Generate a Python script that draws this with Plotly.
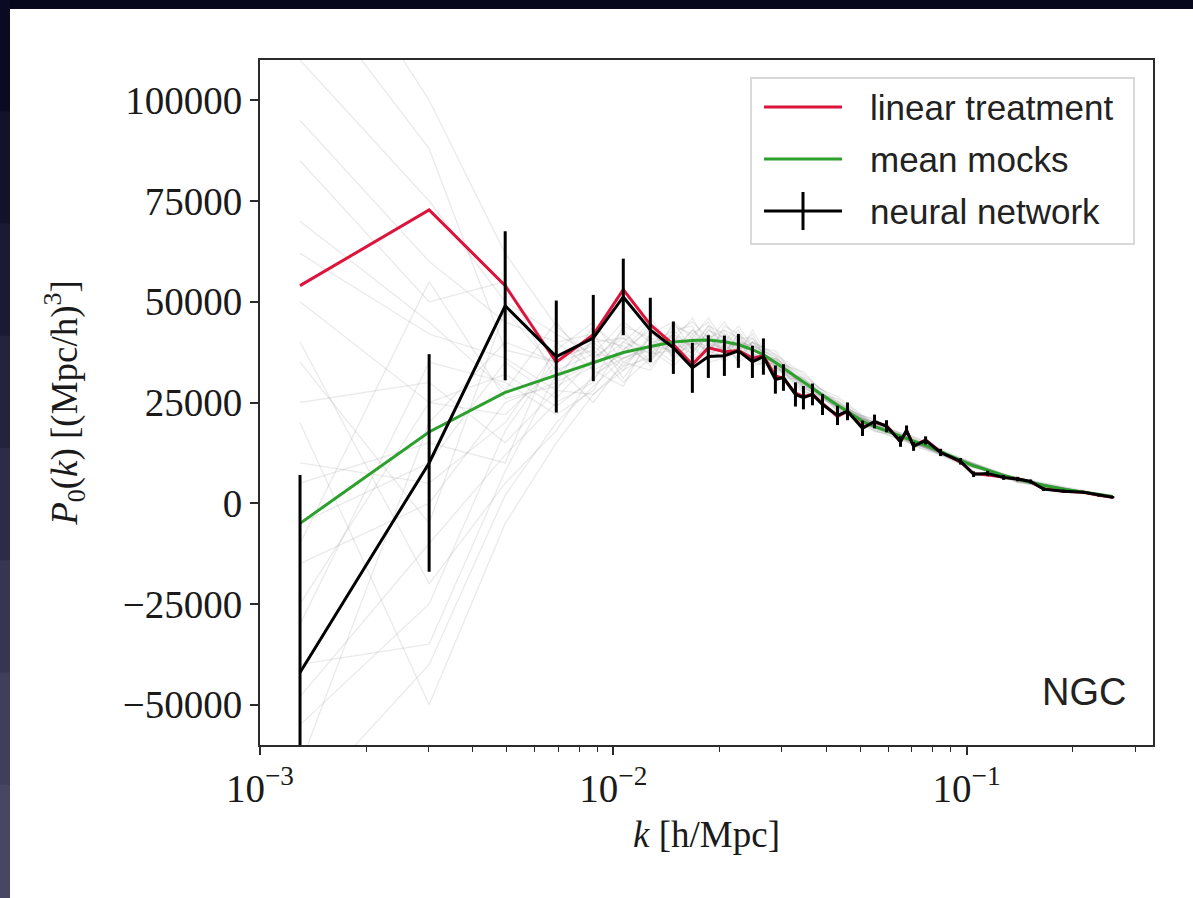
import plotly.graph_objects as go

# ---------------- data ----------------
k = [0.001298, 0.003011, 0.004943, 0.006896, 0.008777, 0.010673, 0.012728, 0.014791, 0.016742, 0.018578,
     0.020627, 0.022600, 0.024760, 0.026600, 0.028760, 0.030310, 0.032780, 0.034530, 0.036620, 0.039100,
     0.043110, 0.046010, 0.050740, 0.054880, 0.059340, 0.065010, 0.067610, 0.070790, 0.076550, 0.084390,
     0.096160, 0.104660, 0.114700, 0.127280, 0.139470, 0.151810, 0.165220, 0.188320, 0.214490, 0.236570,
     0.259300]

linear_P = [54000, 72800, 54000, 35000, 41800, 53000, 44300, 39400, 34400, 38600,
            37600, 37900, 36000, 36600, 31600, 31000, 27300, 26500, 27000, 24800,
            21500, 22900, 18900, 20100, 19300, 15300, 18000, 14300, 15700, 12800,
            10200, 7400, 7000, 6600, 6100, 5300, 3600, 3000, 2700, 2000,
            1500]

mean_P = [-5000, 17700, 27500, 31800, 35000, 37400, 38900, 40000, 40400, 40500,
          40100, 39400, 38100, 36900, 34900, 33500, 31400, 30000, 28400, 26800,
          24300, 22800, 20300, 19000, 18000, 16600, 16000, 15400, 14400, 12800,
          10500, 9300, 8200, 6900, 6000, 5200, 4400, 3500, 2700, 2200,
          1700]

nn_P = [-42000, 10000, 49000, 36400, 41000, 51200, 43000, 38600, 33600, 36400,
        36600, 37800, 35100, 36400, 30700, 31200, 27000, 26200, 27000, 24500,
        21800, 22800, 18600, 20300, 19100, 15300, 18100, 14100, 15600, 12600,
        10400, 7200, 7400, 6400, 6000, 5400, 3500, 3000, 2700, 2000,
        1500]

nn_err = [49000, 27000, 18500, 13900, 10700, 9500, 8000, 6500, 6200, 5300,
          5000, 4200, 4000, 4500, 3500, 3300, 3000, 2900, 2700, 2600,
          2400, 2200, 1900, 1700, 1500, 1300, 1200, 1100, 1000, 900,
          800, 700, 650, 600, 550, 500, 450, 400, 350, 320,
          300]

# individual mock spectra (units of 1000 (Mpc/h)^3)
mock_k = [0.001298, 0.003011, 0.004943, 0.006896, 0.008777, 0.010673, 0.012728, 0.014791, 0.016742,
          0.018578, 0.020627, 0.022600, 0.024760, 0.028760, 0.034530, 0.043110, 0.054880, 0.070790,
          0.096160, 0.139470, 0.259300]
mocks_k1e3 = [
    [62, 42, 36, 28, 41, 39, 35, 42, 45, 41, 38, 41, 41, 35.4, 29.1, 25.3, 19.4, 14.8, 10.8, 5.8, 1.5],
    [-48, -10, 12, 25, 30, 44, 41, 37, 43, 39, 42, 37, 36, 33, 31, 23.5, 19.8, 15.9, 10.2, 5.5, 1.6],
    [95, 60, 45, 40, 33, 29, 42, 45, 38, 44, 37, 40, 39, 36.5, 28.5, 25.0, 18.6, 15.0, 11.1, 6.0, 1.4],
    [10, 5, 20, 38, 45, 35, 33, 41, 36, 37, 44, 42, 35, 33.5, 30.8, 22.9, 20.1, 16.1, 10.0, 5.3, 1.7],
    [-30, 35, 30, 22, 28, 40, 46, 38, 41, 46, 40, 35, 40, 37, 32, 24.8, 18.2, 14.6, 10.9, 6.2, 1.3],
    [40, -20, 5, 18, 32, 36, 38, 34, 39, 42, 39, 43, 37, 34, 27.5, 26.0, 19.5, 15.6, 9.8, 5.6, 1.6],
    [-65, 20, 40, 35, 38, 30, 36, 43, 44, 36, 41, 38, 42, 31.5, 30.5, 23.0, 21.0, 14.2, 10.6, 5.9, 1.5],
    [110, 75, 50, 42, 37, 45, 40, 39, 35, 40, 35, 39, 38, 35.6, 29.9, 24.0, 17.8, 16.4, 11.4, 5.2, 1.4],
    [-15, 0, 25, 30, 44, 38, 43, 36, 40, 38, 43, 41, 34, 36, 31.5, 25.5, 19.0, 15.2, 9.6, 6.3, 1.8],
    [25, 30, 15, 28, 27, 33, 37, 44, 42, 45, 38, 36, 40, 34.2, 28.2, 22.5, 20.4, 14.9, 10.4, 5.4, 1.5],
    [-40, -35, 8, 32, 40, 41, 34, 40, 46, 39, 40, 44, 39, 37.8, 29.0, 24.6, 18.9, 16.0, 11.0, 5.9, 1.2],
    [70, 45, 28, 45, 33, 37, 44, 37, 39, 35, 36, 38, 41, 32.8, 30.2, 26.5, 19.7, 14.4, 10.1, 5.6, 1.6],
    [-5, 10, 35, 26, 36, 42, 37, 42, 37, 43, 41, 35, 37, 35.0, 32.6, 23.6, 18.4, 15.8, 10.7, 5.1, 1.5],
    [50, 25, 22, 34, 25, 35, 39, 38, 43, 40, 45, 40, 36, 34.5, 27.8, 24.2, 20.6, 15.4, 9.9, 6.1, 1.4],
    [-55, -25, 18, 36, 39, 33, 42, 39, 36, 42, 37, 42, 39, 36.2, 30.0, 25.2, 19.3, 16.6, 10.5, 5.7, 1.7],
    [85, 50, 55, 30, 35, 43, 35, 45, 41, 37, 39, 37, 43, 33.2, 31.2, 23.3, 18.0, 14.7, 11.2, 5.4, 1.5],
    [5, 15, 10, 40, 42, 31, 40, 41, 39, 44, 42, 39, 35, 35.8, 29.4, 24.9, 19.9, 15.1, 10.3, 5.8, 1.3],
    [-25, 25, 32, 24, 31, 38, 45, 36, 42, 38, 36, 41, 38, 34.9, 28.7, 23.8, 19.1, 15.5, 10.8, 6.0, 1.6],
    [35, -5, 48, 33, 37, 36, 39, 43, 38, 41, 43, 38, 40, 36.8, 30.9, 24.5, 18.7, 15.3, 10.6, 5.5, 1.4],
    [-10, 55, 26, 29, 34, 40, 37, 38, 40, 39, 39, 40, 37, 34.0, 29.6, 24.0, 19.4, 15.0, 10.4, 5.7, 1.5],
    [130, 88, 38, 35, 40, 34, 41, 40, 37, 43, 40, 39, 38, 35.2, 29.3, 24.4, 19.0, 15.2, 10.5, 5.6, 1.5],
    [-75, -40, 2, 20, 29, 36, 39, 35, 41, 40, 38, 40, 39, 34.3, 30.1, 23.9, 19.6, 15.4, 10.5, 5.7, 1.5],
    [150, 100, 62, 44, 36, 41, 38, 42, 39, 41, 37, 42, 37, 36.0, 30.4, 24.7, 19.2, 15.6, 10.7, 5.8, 1.5],
    [20, -50, -5, 15, 27, 34, 36, 40, 35, 38, 41, 37, 40, 33.8, 28.9, 23.7, 18.9, 14.9, 10.3, 5.6, 1.6],
]

legend_labels = ["linear treatment", "mean mocks", "neural network"]
region_label = "NGC"

y_ticks = [-50000, -25000, 0, 25000, 50000, 75000, 100000]
y_ticktext = ["\u221250000", "\u221225000", "0", "25000", "50000", "75000", "100000"]
x_ticks = [1e-3, 1e-2, 1e-1]
x_ticktext = ["10<sup>\u22123</sup>", "10<sup>\u22122</sup>", "10<sup>\u22121</sup>"]
x_minor = [m * d for d in (1e-3, 1e-2, 1e-1) for m in range(2, 10) if m * d < 0.34]

# ---------------- styling ----------------
RED = "#dc143c"
GREEN = "#2ca02c"
AX = "#2b2b2b"
SERIF = "Liberation Serif, DejaVu Serif, serif"
SANS = "Liberation Sans, Arial, sans-serif"

W, H = 1193, 898
L, R, T, B = 260, 40, 60, 153


def px(x):
    return (x - L) / (W - L - R)


def py(y):
    return (H - B - y) / (H - T - B)


fig = go.Figure()

for m in mocks_k1e3:
    fig.add_trace(go.Scatter(x=mock_k, y=[v * 1000 for v in m], mode="lines",
                             line=dict(color="rgba(130,130,130,0.17)", width=1.3),
                             hoverinfo="skip", showlegend=False))

fig.add_trace(go.Scatter(x=k, y=linear_P, mode="lines", name=legend_labels[0],
                         line=dict(color=RED, width=3), showlegend=False))
fig.add_trace(go.Scatter(x=k, y=mean_P, mode="lines", name=legend_labels[1],
                         line=dict(color=GREEN, width=3), showlegend=False))
fig.add_trace(go.Scatter(x=k, y=nn_P, mode="lines", name=legend_labels[2],
                         line=dict(color="black", width=3),
                         error_y=dict(type="data", array=nn_err, color="black", thickness=3, width=0),
                         showlegend=False))

axis_common = dict(showline=True, linecolor=AX, linewidth=2, mirror=True, ticks="outside",
                   ticklen=8, tickwidth=1.5, tickcolor=AX, showgrid=False, zeroline=False,
                   tickfont=dict(family=SERIF, size=39, color="#1a1a1a"))

fig.update_layout(
    width=W, height=H, autosize=False,
    margin=dict(l=L, r=R, t=T, b=B),
    paper_bgcolor="white", plot_bgcolor="white",
    showlegend=False,
    xaxis=dict(type="log", range=[-3, -0.4724], tickvals=x_ticks, ticktext=x_ticktext,
               minor=dict(tickvals=x_minor, ticks="outside", ticklen=5, tickwidth=1.2, tickcolor=AX),
               title=dict(text="<i>k</i> [h/Mpc]", font=dict(family=SERIF, size=37, color="#1a1a1a"),
                          standoff=12),
               **axis_common),
    yaxis=dict(range=[-60000, 110000], tickvals=y_ticks, ticktext=y_ticktext,
               title=dict(text="<i>P</i><sub>0</sub>(<i>k</i>) [(Mpc/h)<sup>3</sup>]",
                          font=dict(family=SERIF, size=37, color="#1a1a1a"), standoff=34),
               **axis_common),
)

shapes = []
# slide frame (dark strips on top and left)
shapes.append(dict(type="rect", xref="paper", yref="paper", x0=px(0), x1=px(W), y0=py(9), y1=py(-2),
                   fillcolor="#06061c", line=dict(width=0), layer="above"))
strip_cols = ["#0a0a22", "#12122b", "#1b1a34", "#24233e", "#2d2c48", "#363552", "#3f3e5c", "#474665"]
seg = H / len(strip_cols)
for i, c in enumerate(strip_cols):
    shapes.append(dict(type="rect", xref="paper", yref="paper", x0=px(-2), x1=px(10),
                       y0=py(seg * (i + 1) + 1), y1=py(seg * i - 1), fillcolor=c,
                       line=dict(width=0), layer="above"))

# legend box
shapes.append(dict(type="rect", xref="paper", yref="paper", x0=px(751), x1=px(1134), y0=py(244), y1=py(78),
                   fillcolor="rgba(255,255,255,0.85)", line=dict(color="#d9d9d9", width=2), layer="above"))
for yy, col in ((107, RED), (159, GREEN), (211, "black")):
    shapes.append(dict(type="line", xref="paper", yref="paper", x0=px(764), x1=px(842), y0=py(yy), y1=py(yy),
                       line=dict(color=col, width=3), layer="above"))
shapes.append(dict(type="line", xref="paper", yref="paper", x0=px(803), x1=px(803), y0=py(230), y1=py(192),
                   line=dict(color="black", width=3), layer="above"))

annotations = []
for yy, txt in zip((107, 159, 211), legend_labels):
    annotations.append(dict(xref="paper", yref="paper", x=px(868), y=py(yy), text=txt, showarrow=False,
                            xanchor="left", yanchor="middle", font=dict(family=SANS, size=35, color="#222")))
annotations.append(dict(xref="paper", yref="paper", x=px(1128), y=py(692), text=region_label, showarrow=False,
                        xanchor="right", yanchor="middle", font=dict(family=SANS, size=38, color="#222")))

fig.update_layout(shapes=shapes, annotations=annotations)

fig.write_html("out.html", config={"displayModeBar": False},
               post_script="document.body.style.margin='0';")
